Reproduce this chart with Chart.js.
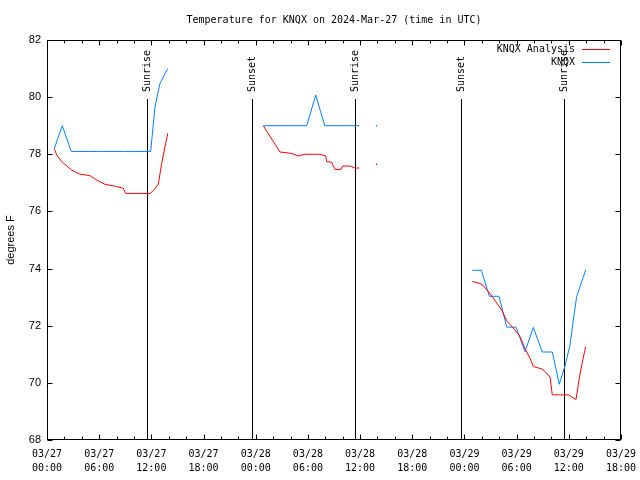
<!DOCTYPE html>
<html>
<head>
<meta charset="utf-8">
<script src="https://cdn.jsdelivr.net/npm/chart.js@4/dist/chart.umd.min.js"></script>
<style>
  html, body { margin: 0; padding: 0; background: #fff; }
  #wrap { width: 640px; height: 480px; }
</style>
</head>
<body>
<div id="wrap"><canvas id="tempChart" width="640" height="480"></canvas></div>
<script>
// hours since 2024-03-27 00:00 UTC; null = gap in the record
const analysisHours = [0.84, 1.11, 1.69, 2.84, 3.71, 4.94, 5.71, 6.67, 8.01, 8.77, 9.05, 11.84, 12.23, 12.8, 13.19, 13.57, 13.88,
  18,
  24.87, 26.79, 28.14, 28.9, 29.67, 31.39, 32.05, 32.16, 32.74, 33.11, 33.8, 34.0, 34.84, 35.41, 35.91,
  36.9, 37.9, 42,
  48.9, 49.79, 50.17, 50.86, 52.28, 52.86, 53.81, 54.39, 54.96, 55.54, 55.92, 56.88, 57.3, 57.84, 58.1, 59.94, 60.83, 61.2, 61.6, 61.94];
const analysisTemps = [78.2, 77.98, 77.74, 77.45, 77.31, 77.25, 77.1, 76.95, 76.87, 76.81, 76.63, 76.63, 76.73, 76.96, 77.68, 78.27, 78.73,
  null,
  79.0, 78.08, 78.03, 77.94, 78.0, 78.0, 77.94, 77.74, 77.72, 77.47, 77.47, 77.59, 77.59, 77.52, 77.52,
  null, 77.65, null,
  73.55, 73.48, 73.4, 73.16, 72.55, 72.17, 71.85, 71.62, 71.2, 70.86, 70.57, 70.49, 70.39, 70.2, 69.58, 69.58, 69.42, 70.16, 70.8, 71.27];

const obsHours = [0.84, 1.76, 2.79, 3.8, 4.8, 5.8, 6.8, 7.8, 8.8, 9.8, 10.8, 11.92, 12.42, 12.99, 13.88,
  18,
  24.87, 25.9, 26.9, 27.9, 28.9, 29.86, 30.9, 31.93, 32.9, 33.9, 34.9, 35.91,
  36.9, 37.9, 42,
  48.9, 49.94, 50.86, 51.97, 52.86, 53.93, 54.96, 55.92, 56.95, 58.1, 58.9, 59.56, 60.14, 60.52, 60.9, 61.94];
const obsTemps = [78.2, 79.0, 78.1, 78.1, 78.1, 78.1, 78.1, 78.1, 78.1, 78.1, 78.1, 78.1, 79.67, 80.48, 81.0,
  null,
  79.0, 79.0, 79.0, 79.0, 79.0, 79.0, 80.07, 79.0, 79.0, 79.0, 79.0, 79.0,
  null, 79.0, null,
  73.94, 73.94, 73.03, 73.03, 71.95, 71.95, 71.09, 71.94, 71.08, 71.08, 69.95, 70.59, 71.33, 72.2, 73.02, 73.95];

const sunHours = [11.5, 23.57, 35.41, 47.6, 59.45];
const sunLabels = ['Sunrise', 'Sunset', 'Sunrise', 'Sunset', 'Sunrise'];

const xTickLabels = [
  ['03/27', '00:00'], ['03/27', '06:00'], ['03/27', '12:00'], ['03/27', '18:00'],
  ['03/28', '00:00'], ['03/28', '06:00'], ['03/28', '12:00'], ['03/28', '18:00'],
  ['03/29', '00:00'], ['03/29', '06:00'], ['03/29', '12:00'], ['03/29', '18:00']
];

const titleText = 'Temperature for KNQX on 2024-Mar-27 (time in UTC)';
const MONO = '"DejaVu Sans Mono", monospace';
const SANS = '"Liberation Sans", Arial, sans-serif';

const toPoints = (hs, ts) => hs.map((h, i) => ({ x: h, y: ts[i] }));

// a lone reading between two gaps gets a tiny dot so it shows up
const loneDot = (ctx) => {
  const d = ctx.dataset.data, i = ctx.dataIndex;
  if (d[i].y === null) return 0;
  const prev = i > 0 ? d[i - 1].y : null;
  const next = i < d.length - 1 ? d[i + 1].y : null;
  return prev === null && next === null ? 0.8 : 0;
};

const gnuplotLook = {
  id: 'gnuplotLook',
  beforeDatasetsDraw(chart) {
    const { ctx, chartArea: a, scales: { x } } = chart;
    ctx.save();
    ctx.strokeStyle = '#000';
    ctx.lineWidth = 1;
    ctx.fillStyle = '#000';
    ctx.font = '10px ' + MONO;
    sunHours.forEach((h, i) => {
      const px = Math.round(x.getPixelForValue(h)) + 0.5;
      ctx.beginPath();
      ctx.moveTo(px, a.top + 59);
      ctx.lineTo(px, a.bottom);
      ctx.stroke();
      ctx.save();
      ctx.translate(px, a.top + 52);
      ctx.rotate(-Math.PI / 2);
      ctx.textAlign = 'left';
      ctx.textBaseline = 'middle';
      ctx.fillText(sunLabels[i], 0, 0);
      ctx.restore();
    });
    ctx.restore();
  },
  afterDatasetsDraw(chart) {
    const { ctx, chartArea: a, scales: { x, y } } = chart;
    ctx.save();
    ctx.strokeStyle = '#000';
    ctx.lineWidth = 1;
    const L = Math.round(a.left) + 0.5, R = Math.round(a.right) - 0.5;
    const T = Math.round(a.top) + 0.5, B = Math.round(a.bottom) - 0.5;
    ctx.strokeRect(L, T, R - L, B - T);

    ctx.beginPath();
    x.ticks.forEach((t) => {
      const px = Math.round(x.getPixelForValue(t.value)) + 0.5;
      const len = t.value % 6 === 0 ? 5 : 3;
      ctx.moveTo(px, B); ctx.lineTo(px, B - len);
      ctx.moveTo(px, T); ctx.lineTo(px, T + len);
    });
    y.ticks.forEach((t) => {
      const py = Math.round(y.getPixelForValue(t.value)) + 0.5;
      ctx.moveTo(L, py); ctx.lineTo(L + 5, py);
      ctx.moveTo(R, py); ctx.lineTo(R - 5, py);
    });
    ctx.stroke();

    // title
    ctx.fillStyle = '#000';
    ctx.font = '10px ' + MONO;
    ctx.textAlign = 'center';
    ctx.textBaseline = 'middle';
    ctx.fillText(titleText, (a.left + a.right) / 2, 20);

    // key, gnuplot style: text then a line sample
    ctx.textAlign = 'right';
    chart.data.datasets.forEach((ds, i) => {
      const ly = a.top + 9 + i * 13;
      ctx.fillStyle = '#000';
      ctx.fillText(ds.label, a.right - 46, ly);
      ctx.strokeStyle = ds.borderColor;
      ctx.beginPath();
      ctx.moveTo(a.right - 39, Math.round(ly) + 0.5);
      ctx.lineTo(a.right - 11, Math.round(ly) + 0.5);
      ctx.stroke();
    });
    ctx.restore();
  }
};

new Chart(document.getElementById('tempChart'), {
  type: 'line',
  data: {
    datasets: [
      {
        label: 'KNQX Analysis',
        data: toPoints(analysisHours, analysisTemps),
        borderColor: '#ff0000',
        backgroundColor: '#ff0000',
        borderWidth: 1,
        pointRadius: loneDot,
        pointBorderWidth: 0,
        spanGaps: false,
        tension: 0
      },
      {
        label: 'KNQX',
        data: toPoints(obsHours, obsTemps),
        borderColor: '#0080ff',
        backgroundColor: '#0080ff',
        borderWidth: 1,
        pointRadius: loneDot,
        pointBorderWidth: 0,
        spanGaps: false,
        tension: 0
      }
    ]
  },
  options: {
    responsive: false,
    animation: false,
    layout: { padding: { top: 40, right: 19, left: 0, bottom: 0 } },
    plugins: {
      legend: { display: false },
      title: { display: false },
      tooltip: { enabled: false }
    },
    scales: {
      x: {
        type: 'linear',
        min: 0,
        max: 66,
        grid: { display: false, drawTicks: false },
        border: { display: false },
        afterFit: (s) => { s.height = 40; s.paddingLeft = 0; s.paddingRight = 0; },
        ticks: {
          stepSize: 2,
          autoSkip: false,
          maxRotation: 0,
          padding: 8,
          color: '#000',
          font: { family: MONO, size: 10, lineHeight: 1.35 },
          callback: (v) => (v % 6 === 0 ? xTickLabels[v / 6] : '')
        }
      },
      y: {
        min: 68,
        max: 82,
        grid: { display: false, drawTicks: false },
        border: { display: false },
        afterFit: (s) => { s.width = 47; s.paddingTop = 0; s.paddingBottom = 0; },
        ticks: {
          stepSize: 2,
          padding: 6,
          color: '#000',
          font: { family: SANS, size: 11 }
        },
        title: {
          display: true,
          text: 'degrees F',
          color: '#000',
          padding: { top: 4, bottom: 0 },
          font: { family: SANS, size: 11 }
        }
      }
    }
  },
  plugins: [gnuplotLook]
});
</script>
</body>
</html>
